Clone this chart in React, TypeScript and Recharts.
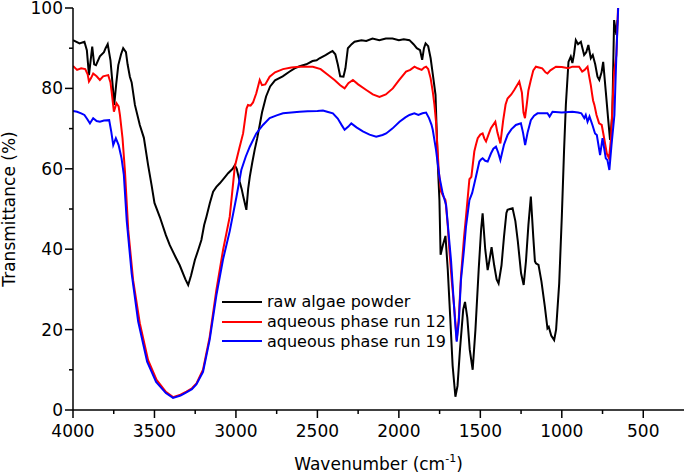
import React from "react";
import { Legend, Line, LineChart, XAxis, YAxis } from "recharts";

// wavenumber (cm-1) / transmittance (%)
const rawWave = [
  4000, 3960, 3930, 3915, 3902, 3882, 3870, 3859, 3835, 3810, 3800, 3787, 3770, 3755, 3747, 3735, 3722, 3705,
  3692, 3675, 3665, 3651, 3640, 3620, 3590, 3565, 3539, 3518, 3500, 3467, 3430, 3406, 3370, 3345, 3310, 3293,
  3275, 3252, 3230, 3212, 3195, 3181, 3160, 3140, 3120, 3099, 3070, 3048, 3020, 3007, 2995, 2977, 2965, 2955,
  2936, 2925, 2915, 2900, 2885, 2870, 2854, 2840, 2815, 2790, 2760, 2713, 2670, 2640, 2609, 2568, 2530, 2505,
  2487, 2450, 2420, 2407, 2390, 2375, 2360, 2340, 2328, 2313, 2290, 2272, 2230, 2200, 2162, 2120, 2080, 2039,
  2000, 1970, 1935, 1910, 1890, 1870, 1857, 1846, 1836, 1820, 1805, 1790, 1775, 1762, 1751, 1744, 1730, 1714,
  1700, 1685, 1670, 1653, 1640, 1625, 1605, 1594, 1580, 1565, 1547, 1530, 1510, 1495, 1486, 1470, 1455, 1445,
  1431, 1415, 1400, 1388, 1370, 1355, 1340, 1333, 1318, 1302, 1285, 1270, 1250, 1234, 1220, 1205, 1190, 1175,
  1165, 1159, 1143, 1125, 1105, 1088, 1080, 1065, 1047, 1035, 1016, 1000, 986, 975, 959, 945, 935, 925, 914,
  900, 883, 863, 850, 837, 822, 810, 795, 781, 770, 756, 746, 730, 716, 704, 690, 679, 665, 658,
];
const rawT = [
  92.0, 91.2, 91.6, 89.5, 83.3, 90.4, 86.0, 85.8, 88.0, 89.0, 90.0, 91.0, 87.0, 80.0, 75.9, 81.0, 85.8, 88.5,
  90.0, 89.0, 86.0, 82.9, 81.5, 75.9, 70.9, 67.7, 60.9, 56.0, 51.5, 48.0, 43.5, 41.0, 38.0, 36.0, 32.5, 31.1,
  33.5, 37.3, 40.0, 42.3, 46.0, 48.1, 51.5, 54.3, 55.5, 56.4, 57.8, 58.9, 60.0, 60.9, 60.0, 56.8, 55.0, 53.1,
  49.8, 55.0, 58.0, 61.5, 64.7, 67.5, 70.9, 74.0, 78.0, 80.5, 82.0, 83.0, 84.2, 85.0, 85.5, 86.0, 86.8, 87.0,
  87.5, 88.3, 89.0, 89.3, 88.5, 86.0, 83.0, 82.9, 85.0, 90.0, 91.0, 91.6, 92.0, 91.8, 92.4, 92.0, 92.4, 92.4,
  92.0, 92.2, 92.0, 91.0, 90.0, 89.5, 87.1, 90.0, 91.2, 90.5, 87.5, 83.0, 78.4, 62.0, 52.2, 38.6, 41.0, 43.3,
  35.0, 23.2, 11.0, 3.3, 6.0, 15.0, 25.0, 26.9, 23.0, 15.0, 10.0, 20.0, 35.0, 45.0, 48.9, 40.0, 34.8, 37.0,
  40.5, 36.0, 32.5, 31.5, 36.0, 43.0, 49.0, 49.8, 50.0, 50.2, 47.0, 42.0, 34.0, 31.1, 37.0, 46.0, 53.1, 43.0,
  37.0, 36.5, 36.1, 32.0, 26.0, 20.3, 20.7, 18.5, 17.4, 20.0, 31.5, 48.0, 64.7, 76.0, 86.6, 87.9, 86.3, 88.5, 92.0,
  91.0, 91.6, 88.3, 89.0, 90.8, 87.5, 88.3, 86.0, 82.9, 82.1, 84.0, 86.6, 79.2, 72.6, 67.2, 73.4, 97.0, 93.3, 97.0,
];

const run12Wave = [
  4000, 3975, 3950, 3925, 3910, 3902, 3890, 3876, 3855, 3835, 3815, 3784, 3770, 3763, 3749, 3733, 3720, 3712,
  3696, 3681, 3661, 3631, 3590, 3539, 3487, 3430, 3386, 3340, 3304, 3270, 3242, 3202, 3161, 3120, 3079, 3038,
  3007, 2980, 2956, 2935, 2926, 2910, 2895, 2875, 2854, 2840, 2820, 2793, 2760, 2711, 2660, 2609, 2560, 2528,
  2480, 2440, 2395, 2360, 2333, 2310, 2282, 2250, 2200, 2160, 2119, 2080, 2037, 2000, 1956, 1930, 1904, 1885,
  1860, 1845, 1833, 1820, 1805, 1792, 1782, 1772, 1755, 1741, 1725, 1714, 1700, 1690, 1675, 1659, 1645, 1632,
  1619, 1600, 1588, 1567, 1555, 1537, 1527, 1516, 1500, 1486, 1475, 1465, 1450, 1435, 1420, 1408, 1395, 1377,
  1360, 1345, 1333, 1310, 1292, 1261, 1245, 1235, 1226, 1215, 1205, 1190, 1175, 1159, 1140, 1120, 1100, 1088,
  1070, 1036, 1000, 960, 935, 894, 875, 860, 842, 832, 822, 815, 808, 800, 787, 771, 755, 740, 724, 710, 698,
  690, 679, 665, 655,
];
const run12T = [
  85.6, 84.6, 85.0, 84.8, 83.5, 81.7, 82.5, 83.7, 83.0, 82.1, 83.0, 83.3, 81.5, 79.2, 74.2, 76.3, 75.5, 73.4,
  67.6, 59.3, 44.8, 32.3, 21.6, 12.4, 7.5, 4.5, 3.2, 3.8, 4.6, 5.4, 6.6, 10.0, 18.2, 29.9, 39.8, 48.1,
  60.5, 65.0, 68.8, 75.0, 75.9, 75.7, 76.5, 78.8, 82.1, 80.8, 81.0, 82.9, 84.0, 84.8, 85.2, 85.4, 85.4, 85.4,
  84.8, 83.5, 82.1, 80.8, 80.0, 81.3, 82.1, 81.0, 79.6, 78.5, 77.9, 78.5, 80.0, 82.0, 84.2, 84.6, 85.4, 85.0,
  84.6, 85.2, 85.4, 84.8, 82.5, 79.2, 76.0, 71.7, 59.3, 54.3, 53.0, 52.2, 46.0, 39.8, 32.0, 24.9, 17.4, 23.0,
  33.2, 43.0, 48.1, 57.4, 58.0, 64.3, 66.0, 67.6, 68.5, 68.8, 67.5, 66.8, 68.5, 70.1, 71.0, 71.7, 69.0, 66.3,
  72.0, 76.0, 77.5, 78.5, 79.6, 81.7, 79.0, 74.0, 72.6, 76.0, 79.5, 82.1, 84.5, 85.4, 85.2, 85.0, 84.0, 83.7,
  84.5, 85.4, 85.3, 85.0, 85.4, 85.4, 84.2, 84.6, 85.4, 83.0, 80.8, 78.8, 77.0, 75.9, 73.4, 71.3, 70.9, 67.6, 63.8, 62.6, 67.6,
  75.0, 84.2, 88.3, 100,
];

const run19Wave = [
  4000, 3975, 3950, 3930, 3915, 3896, 3885, 3876, 3855, 3835, 3810, 3778, 3765, 3753, 3737, 3720, 3702, 3688,
  3670, 3640, 3600, 3545, 3490, 3430, 3386, 3340, 3304, 3270, 3242, 3202, 3161, 3120, 3079, 3038, 2997, 2967,
  2940, 2915, 2875, 2834, 2793, 2750, 2711, 2660, 2609, 2560, 2500, 2466, 2440, 2405, 2375, 2350, 2333, 2310,
  2292, 2260, 2221, 2180, 2139, 2100, 2078, 2040, 1996, 1960, 1935, 1905, 1880, 1855, 1833, 1815, 1800, 1792,
  1772, 1751, 1731, 1710, 1695, 1680, 1665, 1655, 1645, 1632, 1619, 1600, 1588, 1567, 1550, 1527, 1506, 1496,
  1486, 1470, 1455, 1435, 1420, 1404, 1390, 1377, 1355, 1333, 1310, 1282, 1251, 1238, 1225, 1210, 1190, 1170,
  1149, 1120, 1088, 1075, 1057, 1000, 935, 900, 880, 862, 853, 842, 830, 812, 796, 785, 765, 750, 730, 720,
  708, 695, 677, 665, 654,
];
const run19T = [
  74.4, 74.2, 73.8, 73.4, 72.5, 71.3, 72.0, 72.6, 71.9, 71.7, 72.0, 72.1, 69.2, 65.9, 67.6, 65.9, 62.6, 58.5,
  47.0, 34.0, 22.0, 12.0, 7.0, 4.2, 3.0, 3.6, 4.4, 5.2, 6.4, 9.5, 17.5, 28.5, 37.5, 44.5, 53.0, 59.7,
  63.0, 65.5, 68.8, 70.9, 72.6, 73.3, 73.8, 74.0, 74.2, 74.3, 74.4, 74.5, 74.2, 73.8, 72.5, 70.8, 69.7, 70.5,
  71.3, 70.3, 69.3, 68.5, 68.0, 68.4, 68.8, 70.0, 71.7, 72.8, 73.4, 73.8, 73.4, 73.8, 74.0, 72.6, 71.0, 69.7,
  64.7, 58.0, 53.9, 51.0, 44.0, 37.3, 28.0, 22.0, 17.0, 22.0, 32.3, 40.0, 45.6, 52.2, 54.0, 58.0, 61.8, 62.3,
  62.6, 62.0, 61.8, 63.8, 65.0, 65.5, 64.0, 62.2, 66.0, 68.4, 69.8, 70.9, 71.3, 69.0, 65.9, 69.0, 72.1, 73.2,
  73.8, 73.8, 73.8, 73.0, 74.2, 74.0, 74.2, 74.0, 73.8, 72.6, 73.4, 71.7, 73.0, 70.9, 68.8, 68.4, 63.4, 67.6, 62.6, 62.2,
  59.7, 65.9, 73.4, 88.3, 100,
];

const seriesNames = ["raw algae powder", "aqueous phase run 12", "aqueous phase run 19"];
const seriesColors = ["#000000", "#ff0000", "#0000ff"];

const xTicks = [4000, 3750, 3500, 3250, 3000, 2750, 2500, 2250, 2000, 1750, 1500, 1250, 1000, 750, 500];
const yTicks = [0, 10, 20, 30, 40, 50, 60, 70, 80, 90, 100];

const zip = (ws: number[], ts: number[]) => ws.map((w, i) => ({ w, t: ts[i] }));
const rawData = zip(rawWave, rawT);
const run12Data = zip(run12Wave, run12T);
const run19Data = zip(run19Wave, run19T);

const FONT = "'DejaVu Sans', sans-serif";

function XTick(props: any) {
  const { x, y, payload } = props;
  const major = payload.value % 500 === 0;
  return (
    <g>
      <line x1={x} x2={x} y1={y} y2={y + (major ? 8 : 4)} stroke="#000" strokeWidth={1.5} />
      {major && (
        <text x={x} y={y + 27} textAnchor="middle" fontSize={17} fontFamily={FONT} fill="#000">
          {payload.value}
        </text>
      )}
    </g>
  );
}

function YTick(props: any) {
  const { x, y, payload } = props;
  const major = payload.value % 20 === 0;
  return (
    <g>
      <line x1={x - (major ? 8 : 4)} x2={x} y1={y} y2={y} stroke="#000" strokeWidth={1.5} />
      {major && (
        <text x={x - 10} y={y + 6} textAnchor="end" fontSize={17} fontFamily={FONT} fill="#000">
          {payload.value}
        </text>
      )}
    </g>
  );
}

function XLabel(props: any) {
  const vb = props.viewBox;
  return (
    <text x={vb.x + vb.width / 2} y={vb.y + 60} textAnchor="middle" fontSize={17} fontFamily={FONT} fill="#000">
      Wavenumber (cm
      <tspan dy={-8} fontSize={11}>
        -1
      </tspan>
      <tspan dy={8}>)</tspan>
    </text>
  );
}

function YLabel(props: any) {
  const vb = props.viewBox;
  const cx = 15;
  const cy = vb.y + vb.height / 2;
  return (
    <text
      x={cx}
      y={cy}
      transform={`rotate(-90, ${cx}, ${cy})`}
      textAnchor="middle"
      fontSize={17}
      fontFamily={FONT}
      fill="#000"
    >
      Transmittance (%)
    </text>
  );
}

function LegendBox() {
  return (
    <div style={{ fontFamily: FONT, fontSize: 16, color: "#000" }}>
      {seriesNames.map((name, i) => (
        <div key={name} style={{ display: "flex", alignItems: "center", height: 19.7, whiteSpace: "nowrap" }}>
          <svg width={40} height={4}>
            <line x1={0} x2={40} y1={2} y2={2} stroke={seriesColors[i]} strokeWidth={2} />
          </svg>
          <span style={{ marginLeft: 5 }}>{name}</span>
        </div>
      ))}
    </div>
  );
}

export default function App() {
  return (
    <div style={{ position: "absolute", left: 0, top: 0, width: 685, height: 475, background: "#fff" }}>
      <LineChart width={685} height={475} margin={{ top: 8, right: 1, bottom: 0, left: 0 }}>
        <XAxis
          type="number"
          dataKey="w"
          domain={[250, 4000]}
          reversed
          ticks={xTicks}
          interval={0}
          tick={<XTick />}
          tickSize={0}
          tickMargin={0}
          tickLine={false}
          axisLine={{ stroke: "#000", strokeWidth: 1.5 }}
          height={65}
          allowDataOverflow
          label={<XLabel />}
        />
        <YAxis
          type="number"
          dataKey="t"
          domain={[0, 100]}
          ticks={yTicks}
          interval={0}
          tick={<YTick />}
          tickSize={0}
          tickMargin={0}
          tickLine={false}
          axisLine={{ stroke: "#000", strokeWidth: 1.5 }}
          width={73}
          allowDataOverflow
          label={<YLabel />}
        />
        <Legend
          layout="vertical"
          align="center"
          verticalAlign="middle"
          wrapperStyle={{ left: 222, top: 292, width: "auto" }}
          content={<LegendBox />}
        />
        <Line data={rawData} dataKey="t" name={seriesNames[0]} stroke={seriesColors[0]} strokeWidth={2} dot={false} isAnimationActive={false} />
        <Line data={run12Data} dataKey="t" name={seriesNames[1]} stroke={seriesColors[1]} strokeWidth={2} dot={false} isAnimationActive={false} />
        <Line data={run19Data} dataKey="t" name={seriesNames[2]} stroke={seriesColors[2]} strokeWidth={2} dot={false} isAnimationActive={false} />
      </LineChart>
    </div>
  );
}
